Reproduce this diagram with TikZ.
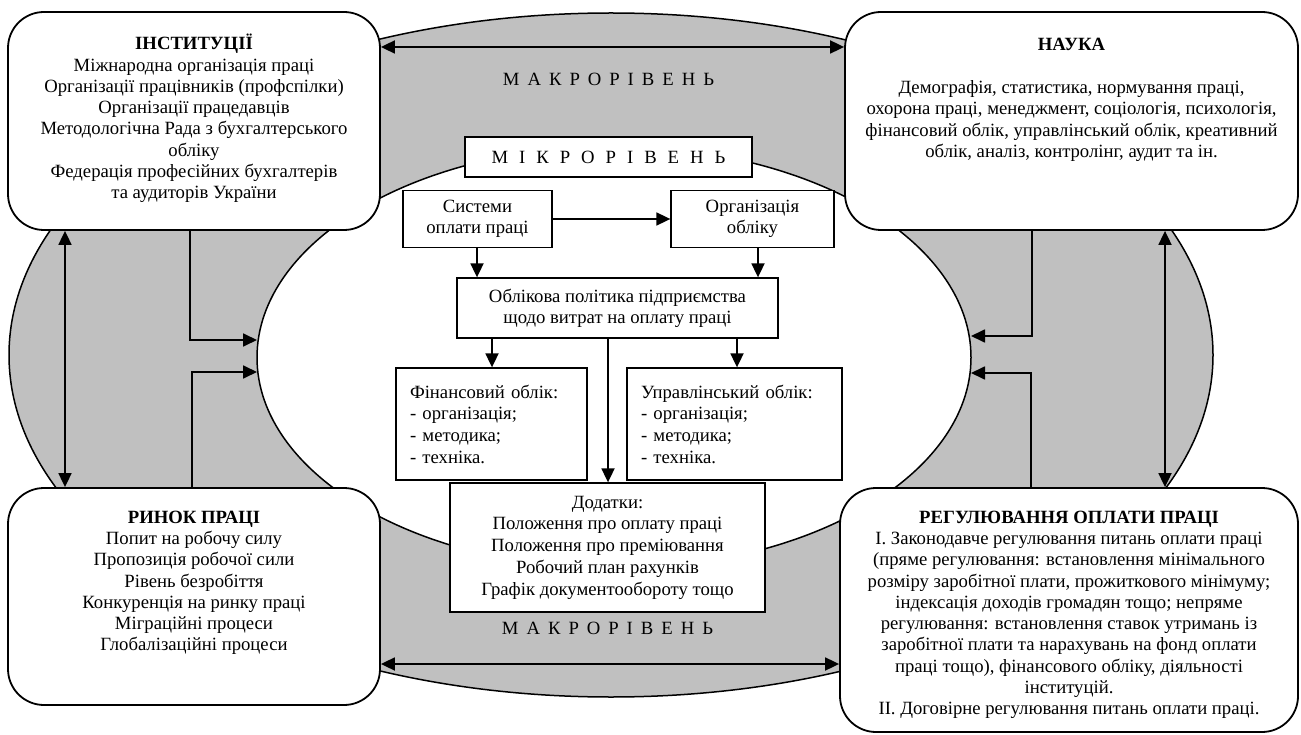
\documentclass[tikz,border=0pt]{standalone}
\usepackage{fontspec}
\setmainfont{Liberation Serif}
\usetikzlibrary{arrows.meta}
\definecolor{ringgray}{HTML}{C0C0C0}
\newcommand\macroword{М\kern3.3pt{} А\kern3.3pt{} К\kern3.3pt{} Р\kern3.3pt{} О\kern3.3pt{} Р\kern3.3pt{} І\kern3.3pt{} В\kern3.3pt{} Е\kern3.3pt{} Н\kern3.3pt{} Ь}
\newcommand\microword{М\kern6.3pt{} І\kern6.3pt{} К\kern6.3pt{} Р\kern6.3pt{} О\kern6.3pt{} Р\kern6.3pt{} І\kern6.3pt{} В\kern6.3pt{} Е\kern6.3pt{} Н\kern6.3pt{} Ь}
\begin{document}
\begin{tikzpicture}[x=1pt,y=-1pt,
  >={Triangle[length=14pt,width=13pt]},
  bigbox/.style={draw, line width=1.8pt, rounded corners=36pt, fill=white, inner sep=0pt},
  smallbox/.style={draw, line width=1.3pt, fill=white, inner sep=0pt, font=\fontsize{18.7}{21}\selectfont, align=center},
  txt/.style={inner sep=0pt, font=\fontsize{18.7}{21.3}\selectfont, align=center, anchor=north},
  arr/.style={line width=1.8pt, ->},
  dbl/.style={line width=1.8pt, <->}]
\useasboundingbox (0,0) rectangle (1301,735);
\fill[white] (0,0) rectangle (1301,735);
% ring
\fill[ringgray, even odd rule] (611,355) ellipse [x radius=602, y radius=342]
  (614,357.5) ellipse [x radius=357, y radius=211];
\draw[line width=1.5pt] (611,355) ellipse [x radius=602, y radius=342];
\draw[line width=1.5pt] (614,357.5) ellipse [x radius=357, y radius=211];
% big boxes
\node[bigbox, minimum width=372pt, minimum height=218pt] (inst) at (194,121) {};
\node[bigbox, minimum width=453pt, minimum height=218pt] (nauka) at (1071.5,121) {};
\node[bigbox, minimum width=372pt, minimum height=217pt] (rynok) at (194,596.5) {};
\node[bigbox, minimum width=458pt, minimum height=244pt] (reg) at (1069,610) {};
\node[txt] (instT) at (194,34) {\strut\textbf{ІНСТИТУЦІЇ}\\Міжнародна організація праці\\Організації працівників (профспілки)\\Організації працедавців\\Методологічна Рада з бухгалтерського\\обліку\\Федерація професійних бухгалтерів\\та аудиторів України};
\node[txt] (naukaT) at (1071.5,35) {\strut\textbf{НАУКА}\\[22pt]Демографія, статистика, нормування праці,\\охорона праці, менеджмент, соціологія, психологія,\\фінансовий облік, управлінський облік, креативний\\облік, аналіз, контролінг, аудит та ін.};
\node[txt] (rynokT) at (194,508) {\strut\textbf{РИНОК ПРАЦІ}\\Попит на робочу силу\\Пропозиція робочої сили\\Рівень безробіття\\Конкуренція на ринку праці\\Міграційні процеси\\Глобалізаційні процеси};
\node[txt] (regT) at (1069,508) {\strut\textbf{РЕГУЛЮВАННЯ ОПЛАТИ ПРАЦІ}\\І. Законодавче регулювання питань оплати праці\\(пряме регулювання: встановлення мінімального\\розміру заробітної плати, прожиткового мінімуму;\\індексація доходів громадян тощо; непряме\\регулювання: встановлення ставок утримань із\\заробітної плати та нарахувань на фонд оплати\\праці тощо), фінансового обліку, діяльності\\інституцій.\\ІІ. Договірне регулювання питань оплати праці.};
% level labels
\node[txt, anchor=center] (macroT) at (608.5,79) {\macroword};
\node[txt, anchor=center] (macroB) at (607.5,628) {\macroword};
% central boxes
\node[smallbox, minimum width=287pt, minimum height=40pt] (mikro) at (608.5,157) {\microword};
\node[smallbox, minimum width=149pt, minimum height=57pt] (sys) at (477.5,219) {Системи\\оплати праці};
\node[smallbox, minimum width=163pt, minimum height=57pt] (org) at (752.5,219) {Організація\\обліку};
\node[smallbox, minimum width=321pt, minimum height=60pt] (pol) at (617.5,308) {Облікова політика підприємства\\щодо витрат на оплату праці};
\node[smallbox, minimum width=191pt, minimum height=112pt, text width=163pt, align=left, font=\fontsize{18.7}{21.7}\selectfont] (fin) at (491.5,424) {Фінансовий облік:\\- організація;\\- методика;\\- техніка.};
\node[smallbox, minimum width=215pt, minimum height=112pt, text width=187pt, align=left, font=\fontsize{18.7}{21.7}\selectfont] (upr) at (734.5,424) {Управлінський облік:\\- організація;\\- методика;\\- техніка.};
\node[smallbox, minimum width=315pt, minimum height=129pt, font=\fontsize{18.7}{21.7}\selectfont] (dod) at (607.5,547.5) {Додатки:\\Положення про оплату праці\\Положення про преміювання\\Робочий план рахунків\\Графік документообороту тощо};
% free ends on the inner ellipse
\coordinate (inL1) at (257,340);
\coordinate (inL2) at (257,372);
\coordinate (inR1) at (971,336);
\coordinate (inR2) at (971,373);
% outer arrows
\draw[dbl] (inst.north east |- 0,47) -- (nauka.north west |- 0,47);
\draw[dbl] (rynok.south east |- 0,664) -- (reg.south west |- 0,664);
\draw[dbl] (inst.south -| 65,0) -- (rynok.north -| 65,0);
\draw[dbl] (nauka.south -| 1165,0) -- (reg.north -| 1165,0);
\draw[arr] (inst.south -| 190,0) |- (inL1);
\draw[arr] (rynok.north -| 192,0) |- (inL2);
\draw[arr] (nauka.south -| 1032,0) |- (inR1);
\draw[arr] (reg.north -| 1031,0) |- (inR2);
% central arrows
\draw[arr] (sys.east) -- (sys.east -| org.west);
\draw[arr] (sys.south -| 477,0) -- (pol.north -| 477,0);
\draw[arr] (org.south -| 758,0) -- (pol.north -| 758,0);
\draw[arr] (pol.south -| 492,0) -- (fin.north -| 492,0);
\draw[arr] (pol.south -| 737,0) -- (upr.north -| 737,0);
\draw[arr] (pol.south -| 608,0) -- (dod.north -| 608,0);
\end{tikzpicture}
\end{document}
